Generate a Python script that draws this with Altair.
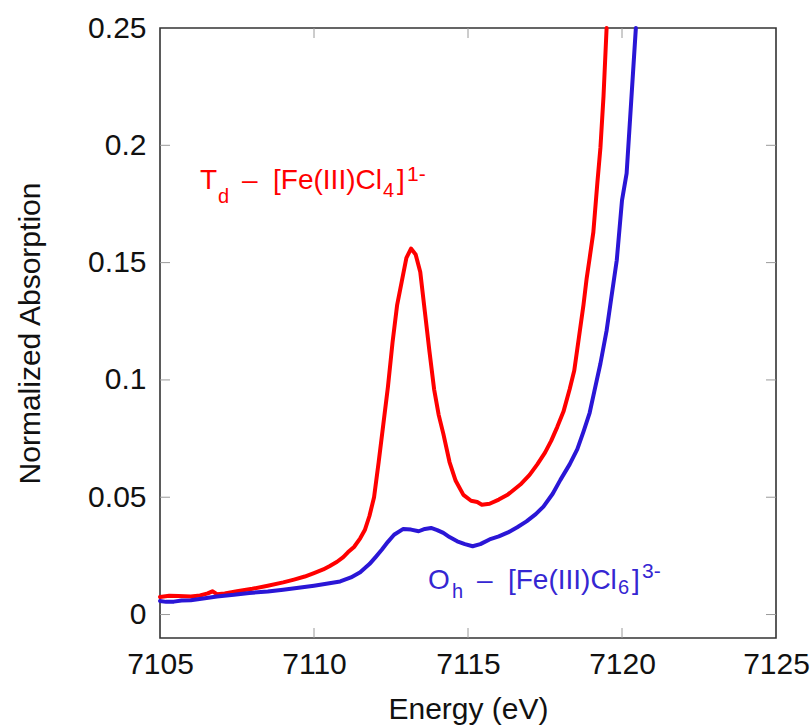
import altair as alt
import pandas as pd

# Fe K-edge pre-edge spectra (energy in eV, normalized absorption)
td_energy = [7105.0, 7105.3, 7105.6, 7106.0, 7106.3, 7106.55, 7106.7, 7106.85, 7107.1, 7107.5,
             7108.0, 7108.5, 7109.0, 7109.35, 7109.7, 7110.0, 7110.3, 7110.5, 7110.75, 7110.95,
             7111.1, 7111.3, 7111.5, 7111.65, 7111.8, 7111.95, 7112.1, 7112.25, 7112.4, 7112.55,
             7112.7, 7112.85, 7113.0, 7113.15, 7113.3, 7113.45, 7113.6, 7113.75, 7113.9, 7114.05,
             7114.2, 7114.4, 7114.6, 7114.85, 7115.1, 7115.3, 7115.45, 7115.7, 7116.0, 7116.3,
             7116.7, 7117.0, 7117.25, 7117.5, 7117.7, 7117.9, 7118.1, 7118.3, 7118.45, 7118.6,
             7118.75, 7118.85, 7118.95, 7119.07, 7119.2, 7119.3, 7119.4, 7119.5]
td_absorb = [0.0075, 0.0080, 0.0079, 0.0077, 0.0081, 0.0090, 0.0099, 0.0087, 0.0090, 0.0099,
             0.0110, 0.0123, 0.0137, 0.0149, 0.0162, 0.0177, 0.0192, 0.0206, 0.0225, 0.0245,
             0.0265, 0.0288, 0.0325, 0.0360, 0.0420, 0.0500, 0.0650, 0.0810, 0.0970, 0.1160,
             0.1320, 0.1420, 0.1520, 0.1560, 0.1535, 0.1460, 0.1290, 0.1120, 0.0960, 0.0850,
             0.0770, 0.0650, 0.0570, 0.0510, 0.0485, 0.0480, 0.0468, 0.0472, 0.0490, 0.0512,
             0.0554, 0.0595, 0.0640, 0.0690, 0.0740, 0.0800, 0.0865, 0.0960, 0.1040, 0.1180,
             0.1320, 0.1430, 0.1520, 0.1630, 0.1840, 0.1990, 0.2210, 0.2500]

oh_energy = [7105.0, 7105.2, 7105.45, 7105.7, 7106.0, 7106.4, 7106.85, 7107.4, 7107.9, 7108.5,
             7109.0, 7109.5, 7110.0, 7110.4, 7110.85, 7111.2, 7111.5, 7111.8, 7112.0, 7112.2,
             7112.4, 7112.6, 7112.9, 7113.15, 7113.4, 7113.6, 7113.8, 7114.0, 7114.2, 7114.4,
             7114.65, 7114.9, 7115.15, 7115.4, 7115.7, 7116.0, 7116.3, 7116.6, 7116.9, 7117.2,
             7117.45, 7117.75, 7118.0, 7118.3, 7118.55, 7118.75, 7118.95, 7119.1, 7119.3, 7119.5,
             7119.66, 7119.83, 7120.0, 7120.15, 7120.3, 7120.45]
oh_absorb = [0.0058, 0.0054, 0.0055, 0.0060, 0.0061, 0.0068, 0.0077, 0.0084, 0.0092, 0.0098,
             0.0106, 0.0114, 0.0123, 0.0131, 0.0141, 0.0158, 0.0180, 0.0215, 0.0245, 0.0276,
             0.0310, 0.0340, 0.0365, 0.0362, 0.0355, 0.0365, 0.0369, 0.0360, 0.0348, 0.0330,
             0.0312, 0.0300, 0.0291, 0.0300, 0.0320, 0.0333, 0.0350, 0.0372, 0.0397, 0.0428,
             0.0460, 0.0515, 0.0574, 0.0640, 0.0705, 0.0780, 0.0860, 0.0950, 0.1070, 0.1210,
             0.1357, 0.1510, 0.1765, 0.1880, 0.2190, 0.2500]

x_ticks = [7105, 7110, 7115, 7120, 7125]
y_ticks = [0, 0.05, 0.1, 0.15, 0.2, 0.25]
x_inner_ticks = [7110, 7115, 7120]
y_inner_ticks = [0, 0.05, 0.1, 0.15, 0.2]

RED = "#ff0000"
BLUE = "#2a16d6"
BLUE_TEXT = "#3526d2"
FONT = "Liberation Sans"
W, H = 616, 610

x_scale = alt.Scale(domain=[7105, 7125], nice=False, zero=False)
y_scale = alt.Scale(domain=[-0.01, 0.25], nice=False, zero=False)

spectra = pd.concat([
    pd.DataFrame({"energy": td_energy, "absorb": td_absorb, "site": "Td"}),
    pd.DataFrame({"energy": oh_energy, "absorb": oh_absorb, "site": "Oh"}),
])

curves = alt.Chart(spectra).mark_line(strokeWidth=4, strokeJoin="round", strokeCap="round").encode(
    x=alt.X("energy:Q", scale=x_scale,
            axis=alt.Axis(values=x_ticks, format="d", title="Energy (eV)", grid=False, domain=False,
                          ticks=False, labelFlush=False, labelFontSize=30, labelFont=FONT,
                          labelColor="#111", labelPadding=11, titleFontSize=30, titleFont=FONT,
                          titleFontWeight="normal", titleColor="#111", titleBaseline="alphabetic",
                          titleY=80)),
    y=alt.Y("absorb:Q", scale=y_scale,
            axis=alt.Axis(values=y_ticks, format="~g", title="Normalized Absorption", grid=False,
                          domain=False, ticks=False, labelFlush=False, labelFontSize=30,
                          labelFont=FONT, labelColor="#111", labelPadding=14, titleFontSize=30,
                          titleFont=FONT, titleFontWeight="normal", titleColor="#111",
                          titleBaseline="alphabetic", titleX=-121, titleY=H / 2,
                          titleAlign="center")),
    color=alt.Color("site:N", scale=alt.Scale(domain=["Td", "Oh"], range=[RED, BLUE]), legend=None),
    order=alt.Order("energy:Q"),
)

# inward tick marks on all four sides
tick_style = dict(color="#9a9a9a", strokeWidth=1)
xt = pd.DataFrame({"energy": x_inner_ticks})
yt = pd.DataFrame({"absorb": y_inner_ticks})
ticks_bottom = alt.Chart(xt).mark_rule(**tick_style).encode(
    x=alt.X("energy:Q", scale=x_scale), y=alt.value(H), y2=alt.value(H - 10))
ticks_top = alt.Chart(xt).mark_rule(**tick_style).encode(
    x=alt.X("energy:Q", scale=x_scale), y=alt.value(0), y2=alt.value(10))
ticks_left = alt.Chart(yt).mark_rule(**tick_style).encode(
    y=alt.Y("absorb:Q", scale=y_scale), x=alt.value(0), x2=alt.value(10))
ticks_right = alt.Chart(yt).mark_rule(**tick_style).encode(
    y=alt.Y("absorb:Q", scale=y_scale), x=alt.value(W), x2=alt.value(W - 10))


def label_piece(text, energy, absorb, color, size, dx, dy):
    df = pd.DataFrame({"energy": [energy], "absorb": [absorb], "t": [text]})
    return alt.Chart(df).mark_text(
        align="left", baseline="alphabetic", font=FONT, fontSize=size, color=color, dx=dx, dy=dy
    ).encode(x=alt.X("energy:Q", scale=x_scale), y=alt.Y("absorb:Q", scale=y_scale), text="t:N")


# T_d – [Fe(III)Cl_4]^1-
td_e, td_a = 7106.3, 0.1815
td_label = [
    label_piece("T", td_e, td_a, RED, 28, 0, 0),
    label_piece("d", td_e, td_a, RED, 20, 18, 14),
    label_piece("\u2013", td_e, td_a, RED, 28, 42, 0),
    label_piece("[Fe(III)Cl", td_e, td_a, RED, 28, 73, 0),
    label_piece("4", td_e, td_a, RED, 20, 183, 8),
    label_piece("]", td_e, td_a, RED, 28, 197, 0),
    label_piece("1-", td_e, td_a, RED, 21, 207, -8),
]

# O_h – [Fe(III)Cl_6]^3-
oh_e, oh_a = 7113.7, 0.011
oh_label = [
    label_piece("O", oh_e, oh_a, BLUE_TEXT, 28, 0, 0),
    label_piece("h", oh_e, oh_a, BLUE_TEXT, 20, 24, 9),
    label_piece("\u2013", oh_e, oh_a, BLUE_TEXT, 28, 49, 0),
    label_piece("[Fe(III)Cl", oh_e, oh_a, BLUE_TEXT, 28, 80, 0),
    label_piece("6", oh_e, oh_a, BLUE_TEXT, 20, 190, 5),
    label_piece("]", oh_e, oh_a, BLUE_TEXT, 28, 204, 0),
    label_piece("3-", oh_e, oh_a, BLUE_TEXT, 21, 214, -11),
]

chart = alt.layer(
    ticks_bottom, ticks_top, ticks_left, ticks_right, curves, *td_label, *oh_label
).properties(
    width=W, height=H,
    autosize=alt.AutoSizeParams(type="none"),
    padding={"left": 160, "top": 28, "right": 36, "bottom": 89},
    background="white",
).configure_view(stroke="#333333", strokeWidth=1.6)

chart.save("out.html", embed_options={"renderer": "svg", "actions": False})
